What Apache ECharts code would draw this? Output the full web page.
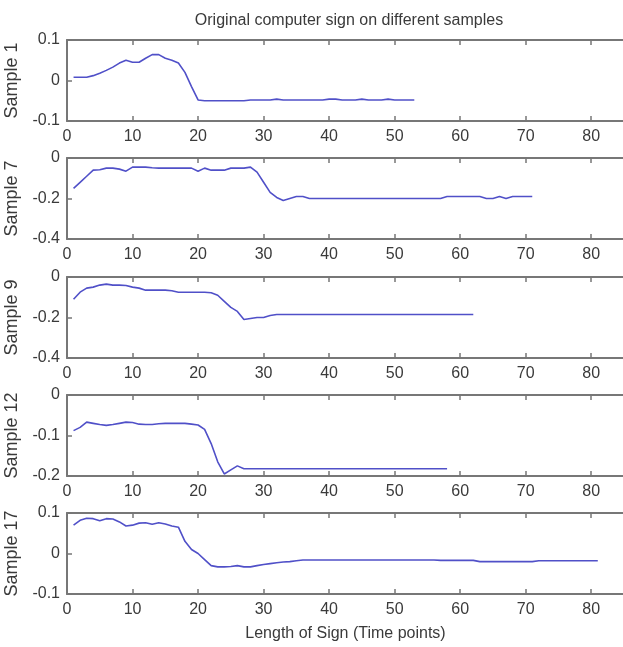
<!DOCTYPE html>
<html>
<head>
<meta charset="utf-8">
<script src="https://cdn.jsdelivr.net/npm/echarts@6/dist/echarts.min.js"></script>
<style>
  html, body { margin: 0; padding: 0; background: #fff; }
  #main { width: 623px; height: 647px; }
</style>
</head>
<body>
<div id="main"></div>
<script>
// samples, one value per time point starting at 1
var sample1 = [0.008, 0.008, 0.008, 0.012, 0.018, 0.025, 0.033, 0.043, 0.05, 0.045,
  0.045, 0.055, 0.064, 0.064, 0.055, 0.05, 0.043, 0.02, -0.015, -0.048,
  -0.05, -0.05, -0.05, -0.05, -0.05, -0.05, -0.05, -0.048, -0.048, -0.048,
  -0.048, -0.046, -0.048, -0.048, -0.048, -0.048, -0.048, -0.048, -0.048, -0.046,
  -0.046, -0.048, -0.048, -0.048, -0.046, -0.048, -0.048, -0.048, -0.046, -0.048,
  -0.048, -0.048, -0.048];
var sample7 = [-0.15, -0.12, -0.09, -0.06, -0.058, -0.05, -0.05, -0.055, -0.065, -0.045,
  -0.045, -0.045, -0.048, -0.05, -0.05, -0.05, -0.05, -0.05, -0.05, -0.065,
  -0.05, -0.06, -0.06, -0.06, -0.05, -0.05, -0.05, -0.045, -0.07, -0.12,
  -0.17, -0.195, -0.21, -0.2, -0.19, -0.19, -0.2, -0.2, -0.2, -0.2,
  -0.2, -0.2, -0.2, -0.2, -0.2, -0.2, -0.2, -0.2, -0.2, -0.2,
  -0.2, -0.2, -0.2, -0.2, -0.2, -0.2, -0.2, -0.19, -0.19, -0.19,
  -0.19, -0.19, -0.19, -0.2, -0.2, -0.19, -0.2, -0.19, -0.19, -0.19,
  -0.19];
var sample9 = [-0.11, -0.075, -0.055, -0.05, -0.04, -0.035, -0.04, -0.04, -0.042, -0.05,
  -0.055, -0.065, -0.065, -0.065, -0.065, -0.068, -0.075, -0.075, -0.075, -0.075,
  -0.075, -0.078, -0.09, -0.12, -0.15, -0.17, -0.21, -0.205, -0.2, -0.2,
  -0.19, -0.185, -0.185, -0.185, -0.185, -0.185, -0.185, -0.185, -0.185, -0.185,
  -0.185, -0.185, -0.185, -0.185, -0.185, -0.185, -0.185, -0.185, -0.185, -0.185,
  -0.185, -0.185, -0.185, -0.185, -0.185, -0.185, -0.185, -0.185, -0.185, -0.185,
  -0.185, -0.185];
var sample12 = [-0.088, -0.08, -0.067, -0.07, -0.073, -0.075, -0.073, -0.07, -0.067, -0.068,
  -0.072, -0.073, -0.073, -0.071, -0.07, -0.07, -0.07, -0.07, -0.072, -0.074,
  -0.085, -0.12, -0.165, -0.195, -0.185, -0.175, -0.182, -0.182, -0.182, -0.182,
  -0.182, -0.182, -0.182, -0.182, -0.182, -0.182, -0.182, -0.182, -0.182, -0.182,
  -0.182, -0.182, -0.182, -0.182, -0.182, -0.182, -0.182, -0.182, -0.182, -0.182,
  -0.182, -0.182, -0.182, -0.182, -0.182, -0.182, -0.182, -0.182];
var sample17 = [0.07, 0.082, 0.087, 0.086, 0.081, 0.086, 0.085, 0.078, 0.068, 0.07,
  0.075, 0.076, 0.072, 0.076, 0.073, 0.068, 0.065, 0.03, 0.01, 0.0,
  -0.015, -0.03, -0.033, -0.033, -0.032, -0.03, -0.033, -0.033, -0.03, -0.027,
  -0.025, -0.023, -0.021, -0.02, -0.018, -0.016, -0.016, -0.016, -0.016, -0.016,
  -0.016, -0.016, -0.016, -0.016, -0.016, -0.016, -0.016, -0.016, -0.016, -0.016,
  -0.016, -0.016, -0.016, -0.016, -0.016, -0.016, -0.017, -0.017, -0.017, -0.017,
  -0.017, -0.017, -0.02, -0.02, -0.02, -0.02, -0.02, -0.02, -0.02, -0.02,
  -0.02, -0.018, -0.018, -0.018, -0.018, -0.018, -0.018, -0.018, -0.018, -0.018,
  -0.018];

var sampleNames = ['Sample 1', 'Sample 7', 'Sample 9', 'Sample 12', 'Sample 17'];
var sampleData = [sample1, sample7, sample9, sample12, sample17];
var yMin = [-0.1, -0.4, -0.4, -0.2, -0.1];
var yMax = [0.1, 0, 0, 0, 0.1];
var yStep = [0.1, 0.2, 0.2, 0.1, 0.1];
var xMin = 0, xMax = 85, xStep = 10;

var font = 'Liberation Sans, Arial, sans-serif';
var axisGray = '#777';
var textCol = '#3a3a3a';
var tops = [40, 158, 277, 395, 513];

var chart = echarts.init(document.getElementById('main'), null, { renderer: 'canvas' });

var grids = [], xAxes = [], yAxes = [], series = [];
for (var i = 0; i < 5; i++) {
  // the box runs a little past the right edge of the picture, as in the original
  grids.push({ left: 67, top: tops[i], width: 557, height: 81, outerBoundsMode: 'none', containLabel: false });
  // bottom axis with labels
  xAxes.push({
    type: 'value', gridIndex: i, min: xMin, max: xMax, interval: xStep,
    position: 'bottom',
    axisLine: { show: true, onZero: false, lineStyle: { color: axisGray, width: 2 } },
    axisTick: { show: true, inside: true, length: 5, lineStyle: { color: axisGray, width: 1.5 } },
    axisLabel: { color: textCol, fontSize: 16, fontFamily: font, margin: 8, showMaxLabel: false },
    splitLine: { show: false },
    name: i === 4 ? 'Length of Sign (Time points)' : '',
    nameLocation: 'middle', nameGap: 32,
    nameTextStyle: { color: textCol, fontSize: 16, fontFamily: font }
  });
  // top edge of the box
  xAxes.push({
    type: 'value', gridIndex: i, min: xMin, max: xMax, interval: xStep,
    position: 'top',
    axisLine: { show: true, onZero: false, lineStyle: { color: axisGray, width: 2 } },
    axisTick: { show: true, inside: true, length: 5, lineStyle: { color: axisGray, width: 1.5 } },
    axisLabel: { show: false },
    splitLine: { show: false }
  });
  yAxes.push({
    type: 'value', gridIndex: i, min: yMin[i], max: yMax[i], interval: yStep[i],
    position: 'left',
    axisLine: { show: true, onZero: false, lineStyle: { color: axisGray, width: 2 } },
    axisTick: { show: true, inside: true, length: 5, lineStyle: { color: axisGray, width: 1.5 } },
    axisLabel: {
      color: textCol, fontSize: 16, fontFamily: font, margin: 7,
      formatter: function (v) { return String(Math.round(v * 10) / 10); }
    },
    splitLine: { show: false },
    name: sampleNames[i], nameLocation: 'middle', nameGap: 40,
    nameTextStyle: { color: textCol, fontSize: 18, fontFamily: font }
  });
  var pts = [];
  for (var k = 0; k < sampleData[i].length; k++) pts.push([k + 1, sampleData[i][k]]);
  series.push({
    type: 'line', xAxisIndex: i * 2, yAxisIndex: i, data: pts,
    showSymbol: false, smooth: false, silent: true,
    lineStyle: { color: '#5050c8', width: 1.6 }
  });
}

var option = {
  animation: false,
  backgroundColor: '#fff',
  title: {
    text: 'Original computer sign on different samples',
    left: 344, top: 8, textAlign: 'center',
    textStyle: { color: textCol, fontSize: 16, fontWeight: 'normal', fontFamily: font }
  },
  grid: grids,
  xAxis: xAxes,
  yAxis: yAxes,
  series: series
};
chart.setOption(option);
</script>
</body>
</html>
